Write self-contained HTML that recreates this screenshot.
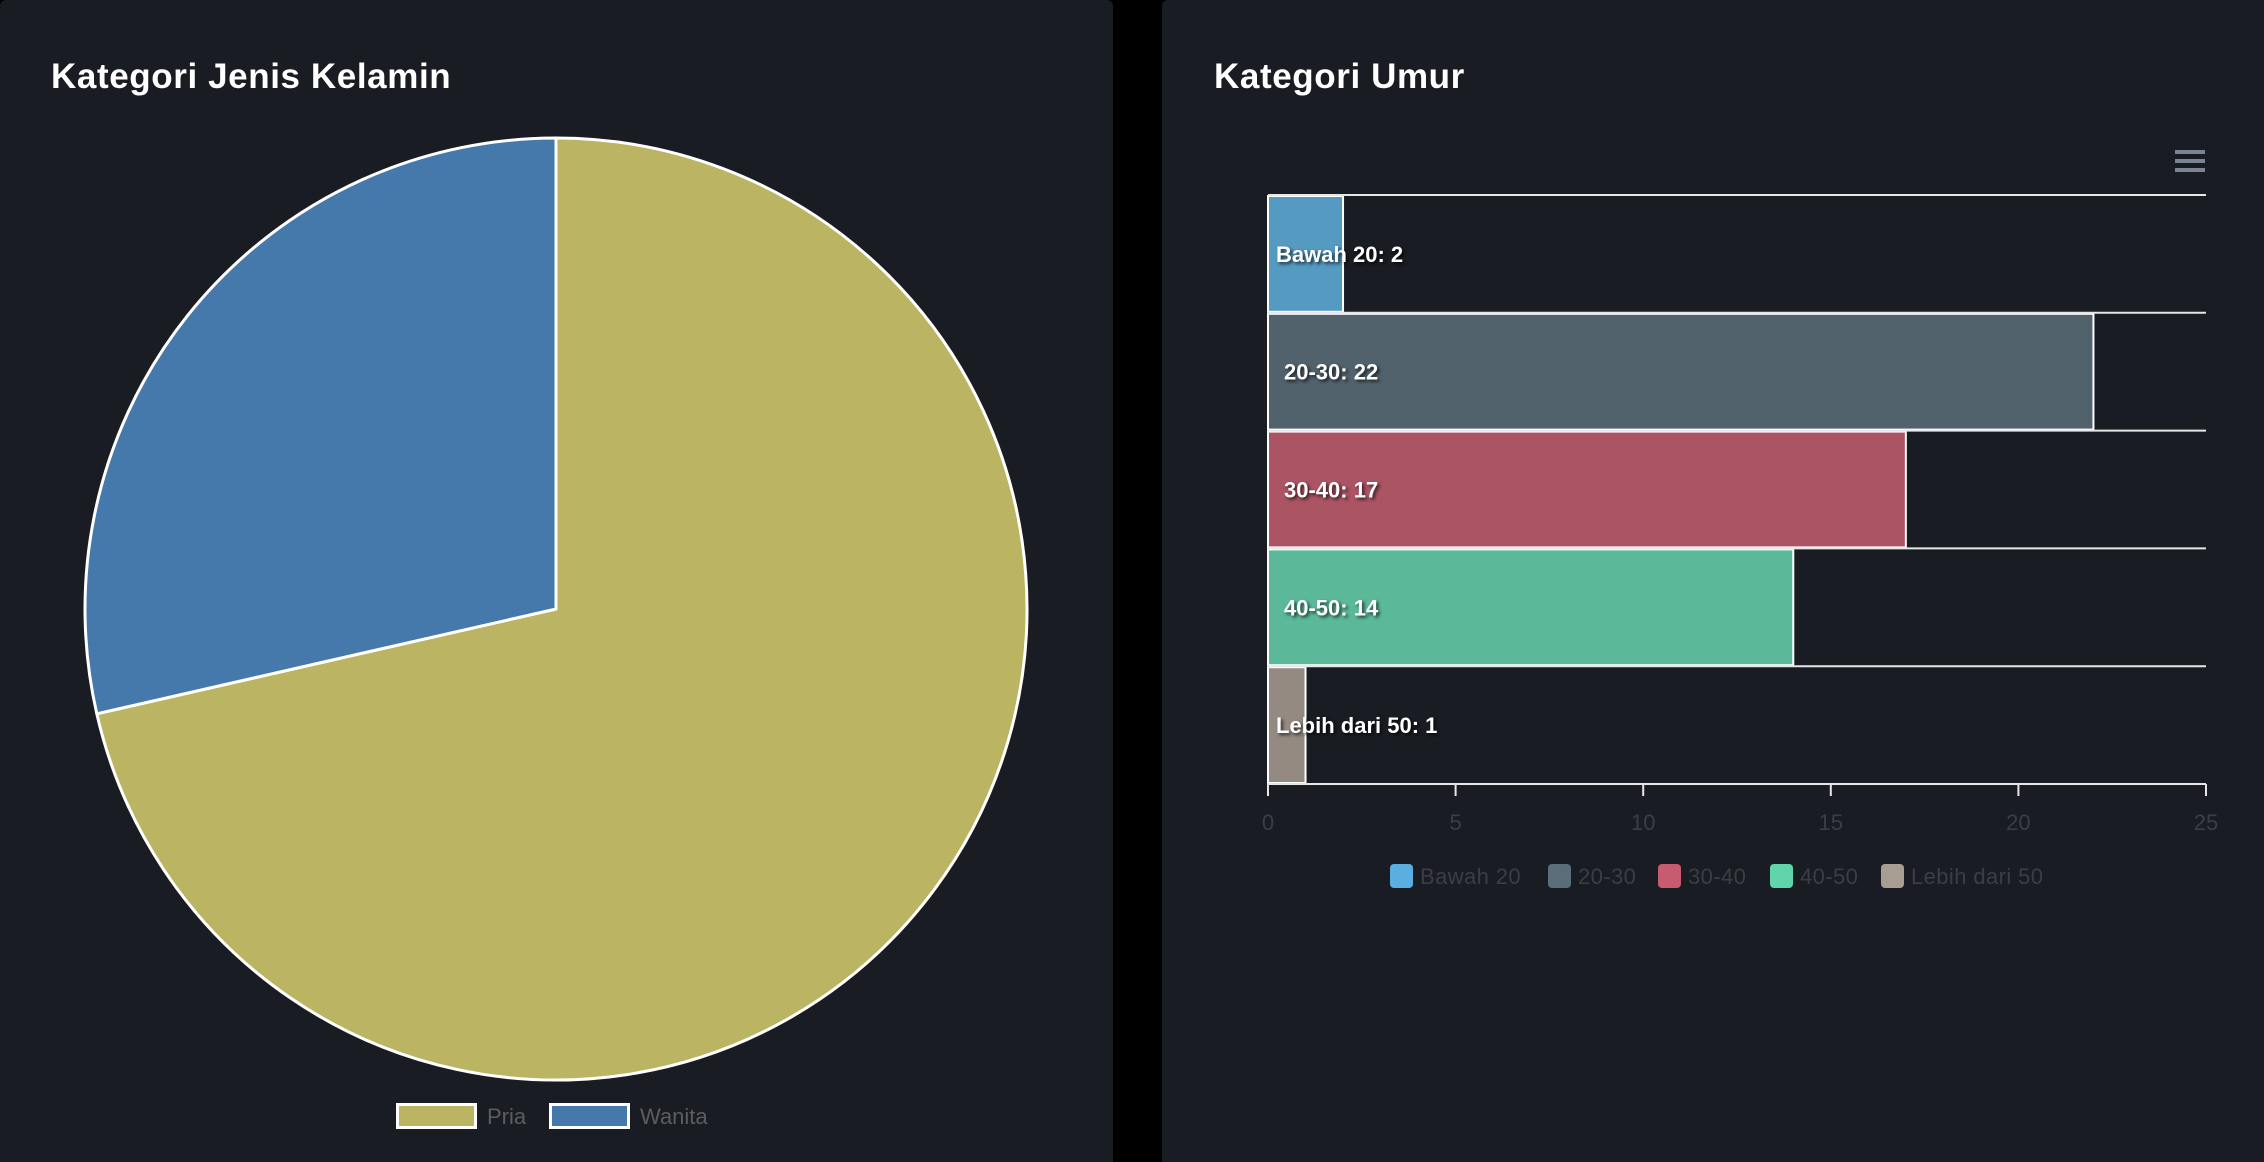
<!DOCTYPE html>
<html><head><meta charset="utf-8">
<style>
html,body{margin:0;padding:0;background:#000;width:2264px;height:1162px;overflow:hidden}
svg{display:block}
text{font-family:"Liberation Sans",sans-serif}
</style></head>
<body>
<svg id="root" width="2264" height="1162" viewBox="0 0 2264 1162">
  <rect x="0" y="0" width="1113" height="1170" rx="6" fill="#1a1c23"/>
  <rect x="1162" y="0" width="1110" height="1170" rx="6" fill="#1a1c23"/>
  <text x="51" y="88" font-size="35" font-weight="bold" letter-spacing="0.6" fill="#ffffff">Kategori Jenis Kelamin</text>
  <text x="1214" y="88" font-size="35" font-weight="bold" letter-spacing="0.6" fill="#ffffff">Kategori Umur</text>
  <g id="pie"></g>
  <g id="pieLegend"></g>
  <g>
    <rect x="2175" y="150" width="30" height="4" fill="#7a8494"/>
    <rect x="2175" y="159" width="30" height="4" fill="#7a8494"/>
    <rect x="2175" y="168" width="30" height="4" fill="#7a8494"/>
  </g>
  <g id="bars"></g>
  <g id="barLegend"></g>
</svg>
<script>
const pieLabels = ["Pria", "Wanita"];
const pieValues = [40, 16];
const pieColors = ["#bbb463", "#4679ab"];

const ageLabels = ["Bawah 20", "20-30", "30-40", "40-50", "Lebih dari 50"];
const ageValues = [2, 22, 17, 14, 1];
const ageColors = ["#549ac1", "#51626c", "#ab5464", "#5bb99a", "#948a82"];
const ageLegendColors = ["#5aafe0", "#5a6e7a", "#c75c70", "#62d4ab", "#a79d92"];
const xTicks = [0, 5, 10, 15, 20, 25];

const NS = "http://www.w3.org/2000/svg";
function mk(tag, attrs, parent) {
  const e = document.createElementNS(NS, tag);
  for (const k in attrs) e.setAttribute(k, attrs[k]);
  parent.appendChild(e);
  return e;
}

// Pie
const pie = document.getElementById("pie");
const cx = 556, cy = 609, r = 471;
const total = pieValues.reduce((a, b) => a + b, 0);
let ang = -Math.PI / 2;
pieValues.forEach((v, i) => {
  const a2 = ang + v / total * Math.PI * 2;
  const x1 = cx + r * Math.cos(ang), y1 = cy + r * Math.sin(ang);
  const x2 = cx + r * Math.cos(a2), y2 = cy + r * Math.sin(a2);
  const large = (a2 - ang) > Math.PI ? 1 : 0;
  const p = mk("path", {d: `M${cx},${cy} L${x1},${y1} A${r},${r} 0 ${large} 1 ${x2},${y2} Z`, fill: pieColors[i], stroke: "#ffffff", "stroke-width": 3, "stroke-linejoin": "round"}, pie);
  
  
  ang = a2;
});

// Pie legend
const pl = document.getElementById("pieLegend");
const plX = [396, 549];
pieLabels.forEach((lab, i) => {
  const g = mk("g", {}, pl);
  
  
  mk("rect", {x: plX[i] + 1.5, y: 1104.5, width: 78, height: 23, fill: pieColors[i], stroke: "#ffffff", "stroke-width": 3}, g);
  const t = mk("text", {x: plX[i] + 91, y: 1124, "font-size": 22, fill: "#5c5d62"}, g);
  t.textContent = lab;
});

// Bars
const bars = document.getElementById("bars");
const px0 = 1268, px1 = 2206, py0 = 195, py1 = 784;
const xMax = 25;
const xs = v => px0 + v / xMax * (px1 - px0);
const rowH = (py1 - py0) / ageValues.length;
ageValues.forEach((v, i) => {
  const y = py0 + i * rowH;
  const rect = mk("rect", {x: xs(0), y: y + 1, width: xs(v) - xs(0), height: rowH - 2, fill: ageColors[i], stroke: "#ffffff", "stroke-width": 2}, bars);
  
  
});
for (let i = 0; i <= ageValues.length; i++) {
  const y = py0 + i * rowH;
  const ln = mk("line", {x1: px0, x2: px1, y1: y, y2: y, stroke: "#e6e6e6", "stroke-width": 2}, bars);
  
  
}
ageValues.forEach((v, i) => {
  const y = py0 + (i + 0.5) * rowH;
  const t = mk("text", {x: (i === 0 || i === 4) ? 1276 : 1284, y: y + 8, "font-size": 22, "font-weight": "bold", fill: "#ffffff", style: "text-shadow:2px 2px 3px rgba(0,0,0,0.7)"}, bars);
  
  
  t.textContent = ageLabels[i] + ": " + v;
});
xTicks.forEach(tv => {
  const x = xs(tv);
  const tk = mk("line", {x1: x, x2: x, y1: py1, y2: py1 + 12, stroke: "#e6e6e6", "stroke-width": 2}, bars);
  
  
  const t = mk("text", {x: x, y: 830, "font-size": 22, fill: "#3b3e45", "text-anchor": "middle"}, bars);
  
  
  t.textContent = tv;
});

// Bar legend
const bl = document.getElementById("barLegend");
const blX = [1390, 1548, 1658, 1770, 1881];
ageLabels.forEach((lab, i) => {
  const g = mk("g", {}, bl);
  
  
  mk("rect", {x: blX[i], y: 864, width: 23, height: 24, rx: 4, fill: ageLegendColors[i]}, g);
  const t = mk("text", {x: blX[i] + 30, y: 884, "font-size": 22, "letter-spacing": 0.4, fill: "#3b3e45"}, g);
  t.textContent = lab;
});
</script>
</body></html>
